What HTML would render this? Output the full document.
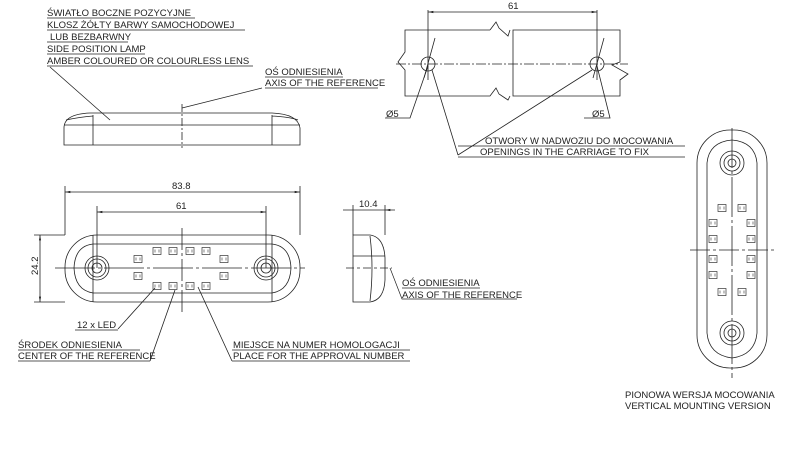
<!DOCTYPE html>
<html><head><meta charset="utf-8"><style>
html,body{margin:0;padding:0;background:#fff;width:800px;height:450px;overflow:hidden}
svg{display:block}
text{font-family:"Liberation Sans",sans-serif;font-size:9.5px;fill:#222}
</style></head><body>
<svg width="800" height="450" viewBox="0 0 800 450" xmlns="http://www.w3.org/2000/svg">
<defs>
<marker id="a" viewBox="0 0 10 6" refX="10" refY="3" markerWidth="8" markerHeight="4" orient="auto-start-reverse"><path d="M0,1 L10,3 L0,5 z" fill="#222"/></marker>
<g id="led"><rect x="-4" y="-3.5" width="8" height="7" fill="none" stroke="#333" stroke-width="0.7"/><path d="M-2,-1.5 v3 M2,-1.5 v3" stroke="#333" stroke-width="0.6"/></g>
</defs>
<g stroke="#222" stroke-width="0.8" fill="none">
<path d="M64,145 V128 Q64,114 90,113 H272 Q298,114 300,128 V145 Z"/>
<path d="M64,125 H300 M93,115 V145 M272,115 V145 M66,120 Q80,117 93,116 M272,116 Q290,117 298,120"/>
<path d="M182,104 V148" stroke-dasharray="8,2,2,2"/>
<path d="M50,67 L110,120 M182,108 L262,88"/>
<path d="M47,18 H195 M47,30 H245 M47,42 H128 M47,54 H145 M47,66 H253 M265,77 H343 M265,88 H378" stroke-width="0.7"/>
<path d="M490,30 H405 V52 L398,62 L405,70 V96 H490 L496,88 L499,94 L508,100 L510,96"/>
<path d="M490,30 L496,22 L499,28 L508,36 L510,30"/>
<path d="M513,30 H620 V62 L612,65 L628,74 L620,80 V96 H513 Z"/>
<path d="M396,64 H628" stroke-dasharray="10,2,2,2"/>
<circle cx="428" cy="64" r="7"/><circle cx="597" cy="64" r="7"/>
<path d="M428,10 V80 M597,10 V80"/>
<path d="M428,12 H597" marker-start="url(#a)" marker-end="url(#a)"/>
<path d="M424,78 L435,38 M593,78 L604,38"/>
<path d="M385,118 H410 L428,66 M584,118 H610 L597,66"/>
<path d="M458,155 L432,70 M458,155 L592,70 M458,146 H685 M458,157 H685"/>
<rect x="65" y="235" width="235" height="67" rx="32"/>
<path d="M93,235 V302 M272,235 V302 M93,244 H272 M93,293 H272"/>
<path d="M93,244 Q75,246 74,268 Q75,290 93,293 M272,244 Q290,246 291,268 Q290,290 272,293"/>
<g><circle cx="97" cy="268" r="12"/><circle cx="97" cy="268" r="9"/><circle cx="97" cy="268" r="5"/>
<circle cx="266" cy="268" r="12"/><circle cx="266" cy="268" r="9"/><circle cx="266" cy="268" r="5"/></g>
<path d="M55,268 H305" stroke-dasharray="40,3,3,3"/>
<path d="M182,228 V313" stroke-dasharray="22,3,3,3"/>
<path d="M65,186 V235 M300,186 V235 M97,206 V268 M266,206 V268"/>
<path d="M65,192 H300" marker-start="url(#a)" marker-end="url(#a)"/>
<path d="M97,212 H266" marker-start="url(#a)" marker-end="url(#a)"/>
<path d="M34,235 H65 M34,302 H65"/>
<path d="M40,235 V302" marker-start="url(#a)" marker-end="url(#a)"/>
<path d="M118,329 L155,288 M150,361 L175,290 M232,361 L198,287"/>
<path d="M75,330 H118 M18,350 H140 M18,361 H150 M232,350 H410 M232,361 H410" stroke-width="0.7"/>
<path d="M353,235 H370 Q384,237 385,258 V280 Q384,300 370,302 H353 Z"/>
<path d="M353,256 H385 M370,236 Q374,268 370,301"/>
<path d="M346,268 H392" stroke-dasharray="8,3,3,3"/>
<path d="M353,205 V235 M385,205 V235"/>
<path d="M343,210 H353 M395,210 H385" marker-end="url(#a)"/>
<path d="M353,210 H385"/>
<path d="M390,268 L402,299 H517 M402,288 H480" stroke-width="0.7"/>
<rect x="697" y="130" width="70" height="238" rx="33"/>
<path d="M707,163 V333 M757,163 V333 M707,163 Q709,142 732,140 Q755,142 757,163 M707,333 Q709,355 732,358 Q755,355 757,333"/>
<circle cx="732" cy="163" r="12"/><circle cx="732" cy="163" r="8"/><circle cx="732" cy="163" r="4"/>
<circle cx="732" cy="333" r="12"/><circle cx="732" cy="333" r="8"/><circle cx="732" cy="333" r="4"/>
<path d="M732,128 V378" stroke-dasharray="40,3,3,3"/>
<path d="M690,250 H776" stroke-dasharray="20,3,3,3"/>
</g>
<g>
<use href="#led" x="157" y="251"/><use href="#led" x="173" y="251"/><use href="#led" x="190" y="251"/><use href="#led" x="206" y="251"/>
<use href="#led" x="157" y="286"/><use href="#led" x="173" y="286"/><use href="#led" x="190" y="286"/><use href="#led" x="206" y="286"/>
<use href="#led" x="138" y="259"/><use href="#led" x="138" y="276"/><use href="#led" x="224" y="259"/><use href="#led" x="224" y="276"/>
<use href="#led" x="722" y="208"/><use href="#led" x="742" y="208"/><use href="#led" x="722" y="292"/><use href="#led" x="742" y="292"/>
<use href="#led" x="713" y="223"/><use href="#led" x="713" y="239"/><use href="#led" x="713" y="259"/><use href="#led" x="713" y="275"/>
<use href="#led" x="751" y="223"/><use href="#led" x="751" y="239"/><use href="#led" x="751" y="259"/><use href="#led" x="751" y="275"/>
</g>
<text x="47" y="16">ŚWIATŁO BOCZNE POZYCYJNE</text>
<text x="47" y="28">KLOSZ ŻÓŁTY BARWY SAMOCHODOWEJ</text>
<text x="50" y="40">LUB BEZBARWNY</text>
<text x="47" y="52">SIDE POSITION LAMP</text>
<text x="47" y="64">AMBER COLOURED OR COLOURLESS LENS</text>
<text x="265" y="75">OŚ ODNIESIENIA</text>
<text x="265" y="86">AXIS OF THE REFERENCE</text>
<text x="508" y="9">61</text>
<text x="386" y="117">Ø5</text>
<text x="592" y="117">Ø5</text>
<text x="485" y="144">OTWORY W NADWOZIU DO MOCOWANIA</text>
<text x="480" y="155">OPENINGS IN THE CARRIAGE TO FIX</text>
<text x="172" y="189">83.8</text>
<text x="176" y="209">61</text>
<text x="359" y="207">10.4</text>
<text transform="translate(38,275) rotate(-90)">24.2</text>
<text x="77" y="328">12 x LED</text>
<text x="18" y="348">ŚRODEK ODNIESIENIA</text>
<text x="18" y="359">CENTER OF THE REFERENCE</text>
<text x="233" y="348">MIEJSCE NA NUMER HOMOLOGACJI</text>
<text x="233" y="359">PLACE FOR THE APPROVAL NUMBER</text>
<text x="402" y="286">OŚ ODNIESIENIA</text>
<text x="402" y="298">AXIS OF THE REFERENCE</text>
<text x="625" y="398">PIONOWA WERSJA MOCOWANIA</text>
<text x="625" y="409">VERTICAL MOUNTING VERSION</text>
</svg>
</body></html>
